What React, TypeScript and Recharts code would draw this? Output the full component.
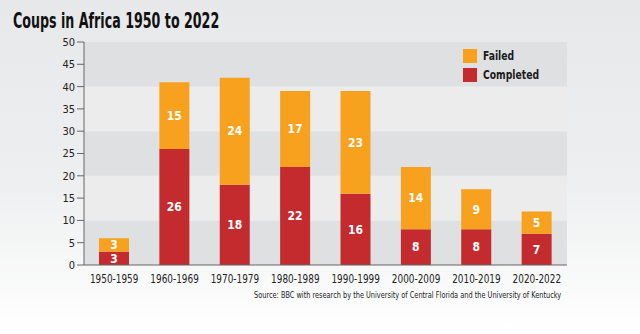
import { BarChart, Bar, XAxis, YAxis, ReferenceArea, LabelList } from 'recharts'

const decades = ['1950-1959', '1960-1969', '1970-1979', '1980-1989', '1990-1999', '2000-2009', '2010-2019', '2020-2022']
const completed = [3, 26, 18, 22, 16, 8, 8, 7]
const failed = [3, 15, 24, 17, 23, 14, 9, 5]
const yTicks = [0, 5, 10, 15, 20, 25, 30, 35, 40, 45, 50]
const bands = [
  [0, 10],
  [10, 20],
  [20, 30],
  [30, 40],
  [40, 50],
]

const FONT = '"Liberation Sans Narrow", "DejaVu Sans Condensed", "Arial Narrow", sans-serif'
const ORANGE = '#f7a11e'
const RED = '#c42b2e'

const chartData = decades.map((d, i) => ({
  decade: d,
  completed: completed[i],
  failed: failed[i],
}))

// narrow tick text, the original uses a condensed face
function XTick({ x, y, payload }: any) {
  return (
    <g transform={`translate(${x},${y})`}>
      <text
        dy={10}
        textAnchor="middle"
        fontSize={11.5}
        fill="#222"
        fontFamily={FONT}
        transform="scale(0.86,1)"
      >
        {payload.value}
      </text>
    </g>
  )
}

function LegendBox() {
  const items = [
    { label: 'Failed', color: ORANGE },
    { label: 'Completed', color: RED },
  ]
  return (
    <div style={{ position: 'absolute', left: 463, top: 46, fontFamily: FONT }}>
      {items.map((it) => (
        <div key={it.label} style={{ display: 'flex', alignItems: 'center', height: 19 }}>
          <div style={{ width: 14, height: 14, background: it.color, marginRight: 6 }} />
          <span
            style={{
              fontSize: 12.5,
              fontWeight: 700,
              color: '#1a1a1a',
              display: 'inline-block',
              transform: 'scaleX(0.82)',
              transformOrigin: 'left center',
            }}
          >
            {it.label}
          </span>
        </div>
      ))}
    </div>
  )
}

export default function App() {
  return (
    <div
      style={{
        position: 'absolute',
        left: 0,
        top: 0,
        width: 640,
        height: 334,
        overflow: 'hidden',
        background: 'linear-gradient(180deg, #e7e8ea 0%, #eeeff0 55%, #ffffff 100%)',
        fontFamily: FONT,
      }}
    >
      <div
        style={{
          position: 'absolute',
          left: 13,
          top: 8,
          fontSize: 22,
          fontWeight: 700,
          color: '#111',
          whiteSpace: 'nowrap',
          transform: 'scaleX(0.64)',
          transformOrigin: 'left center',
        }}
      >
        Coups in Africa 1950 to 2022
      </div>
      <BarChart
        width={640}
        height={334}
        data={chartData}
        margin={{ top: 42, right: 73, left: 0, bottom: 49 }}
        barSize={30}
        style={{ position: 'absolute', left: 0, top: 0 }}
      >
        {bands.map(([a, b], i) => (
          <ReferenceArea
            key={i}
            y1={a}
            y2={b}
            fill={i % 2 === 0 ? '#dfe0e2' : '#ececed'}
            fillOpacity={1}
            stroke="none"
            ifOverflow="visible"
          />
        ))}
        <XAxis
          dataKey="decade"
          tickLine={false}
          axisLine={{ stroke: '#666' }}
          tick={<XTick />}
          interval={0}
          height={20}
        />
        <YAxis
          width={84}
          domain={[0, 50]}
          ticks={yTicks}
          interval={0}
          axisLine={{ stroke: '#666' }}
          tickLine={{ stroke: '#666' }}
          tickSize={7}
          tick={{ fontSize: 11, fill: '#222', fontFamily: FONT }}
        />
        <Bar dataKey="completed" stackId="a" fill={RED} isAnimationActive={false}>
          <LabelList
            dataKey="completed"
            position="center"
            fill="#fff"
            fontSize={12}
            fontWeight={700}
            fontFamily={FONT}
          />
        </Bar>
        <Bar dataKey="failed" stackId="a" fill={ORANGE} isAnimationActive={false}>
          <LabelList
            dataKey="failed"
            position="center"
            fill="#fff"
            fontSize={12}
            fontWeight={700}
            fontFamily={FONT}
          />
        </Bar>
      </BarChart>
      <LegendBox />
      <div
        style={{
          position: 'absolute',
          right: 79,
          top: 290,
          fontSize: 8.5,
          color: '#222',
          whiteSpace: 'nowrap',
          transform: 'scaleX(0.86)',
          transformOrigin: 'right center',
        }}
      >
        Source: BBC with research by the University of Central Florida and the University of Kentucky
      </div>
    </div>
  )
}
